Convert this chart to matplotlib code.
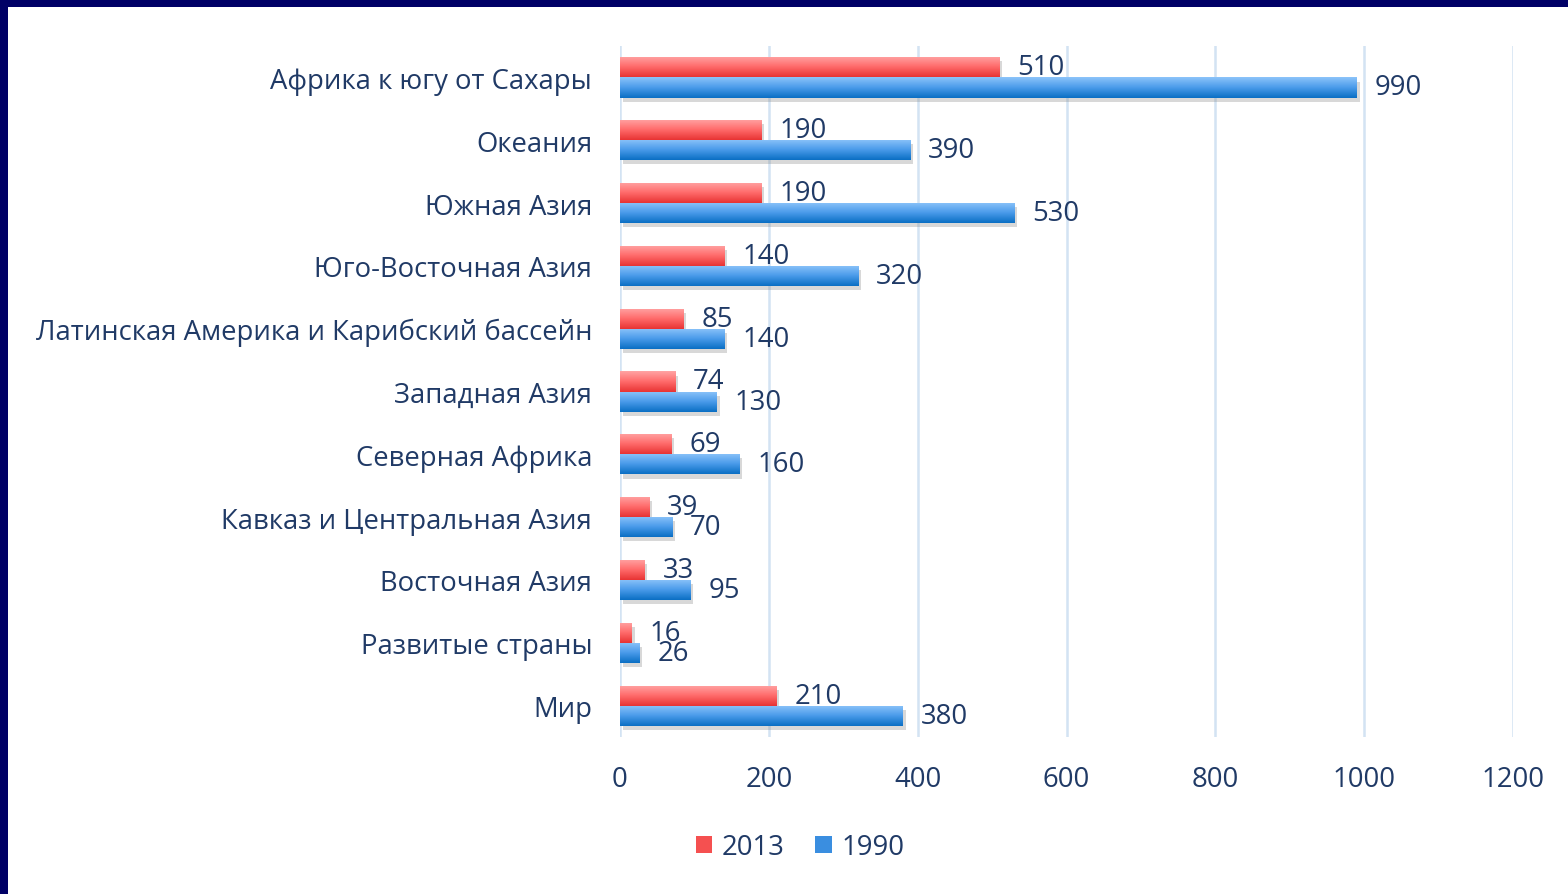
import numpy as np
import matplotlib.pyplot as plt
import matplotlib.patheffects as pe
from matplotlib.colors import LinearSegmentedColormap
from matplotlib.patches import Rectangle

plt.rcParams['font.family'] = ['Open Sans', 'DejaVu Sans']

regions = ['Африка к югу от Сахары', 'Океания', 'Южная Азия', 'Юго-Восточная Азия',
           'Латинская Америка и Карибский бассейн', 'Западная Азия', 'Северная Африка',
           'Кавказ и Центральная Азия', 'Восточная Азия', 'Развитые страны', 'Мир']
v2013 = [510, 190, 190, 140, 85, 74, 69, 39, 33, 16, 210]
v1990 = [990, 390, 530, 320, 140, 130, 160, 70, 95, 26, 380]
xticks = [0, 200, 400, 600, 800, 1000, 1200]

txt = '#203A66'
fs = 19.8

fig = plt.figure(figsize=(15.68, 8.95), dpi=100)
ax = fig.add_axes([0.3954, 0.1754, 0.5696, 0.7721])

y = np.arange(len(regions))
h = 0.32
red_cm = LinearSegmentedColormap.from_list('r', ['#FFA3A3', '#FF6B6B', '#E83434'])
blue_cm = LinearSegmentedColormap.from_list('b', ['#8CC4FA', '#4A9BEA', '#0A6FC4'])
shadow = [pe.SimplePatchShadow(offset=(2, -3), shadow_rgbFace='#808080', alpha=0.3), pe.Normal()]

b1 = ax.barh(y - h / 2, v2013, height=h, color='#F55050', path_effects=shadow, zorder=3)
b2 = ax.barh(y + h / 2, v1990, height=h, color='#3A8EE0', path_effects=shadow, zorder=3)

# vertical gradient inside each bar
grad = np.linspace(0, 1, 64).reshape(-1, 1)
for bars, cm in [(b1, red_cm), (b2, blue_cm)]:
    for r in bars:
        x0, y0, w, hh = r.get_x(), r.get_y(), r.get_width(), r.get_height()
        im = ax.imshow(grad, cmap=cm, aspect='auto', origin='upper',
                       extent=(x0, x0 + w, y0 + hh, y0), zorder=4)
        im.set_clip_path(r)

for bars, vals in [(b1, v2013), (b2, v1990)]:
    for r, v in zip(bars, vals):
        ax.annotate(str(v), (r.get_width(), r.get_y() + r.get_height() / 2),
                    xytext=(13, 0), textcoords='offset points', va='center', ha='left',
                    fontsize=fs, color=txt, zorder=5)

ax.set_xlim(0, 1200)
ax.set_ylim(len(regions) - 0.5, -0.5)
ax.set_xticks(xticks)
ax.set_yticks(y)
ax.set_yticklabels(regions)
ax.tick_params(axis='both', length=0, labelsize=fs, labelcolor=txt)
ax.tick_params(axis='x', pad=20)
ax.tick_params(axis='y', pad=20)
for s in ax.spines.values():
    s.set_visible(False)
ax.grid(axis='x', color='#D3E3F3', linewidth=1.8, zorder=0)
ax.set_axisbelow(True)

hr = Rectangle((0, 0), 1, 1, facecolor='#F55050')
hb = Rectangle((0, 0), 1, 1, facecolor='#3A8EE0')
fig.legend([hr, hb], ['2013', '1990'], loc='center', bbox_to_anchor=(800 / 1568, 1 - 848 / 895),
           ncol=2, frameon=False, fontsize=fs, labelcolor=txt, handlelength=0.6,
           handleheight=0.6, handletextpad=0.35, columnspacing=1.1)

# navy frame on top and left
fig.patches.append(Rectangle((0, 1 - 8 / 895), 1, 8 / 895, transform=fig.transFigure,
                             facecolor='#000066', edgecolor='none', zorder=10))
fig.patches.append(Rectangle((0, 0), 8 / 1568, 1, transform=fig.transFigure,
                             facecolor='#000066', edgecolor='none', zorder=10))

fig.savefig('out.png', dpi=100)
